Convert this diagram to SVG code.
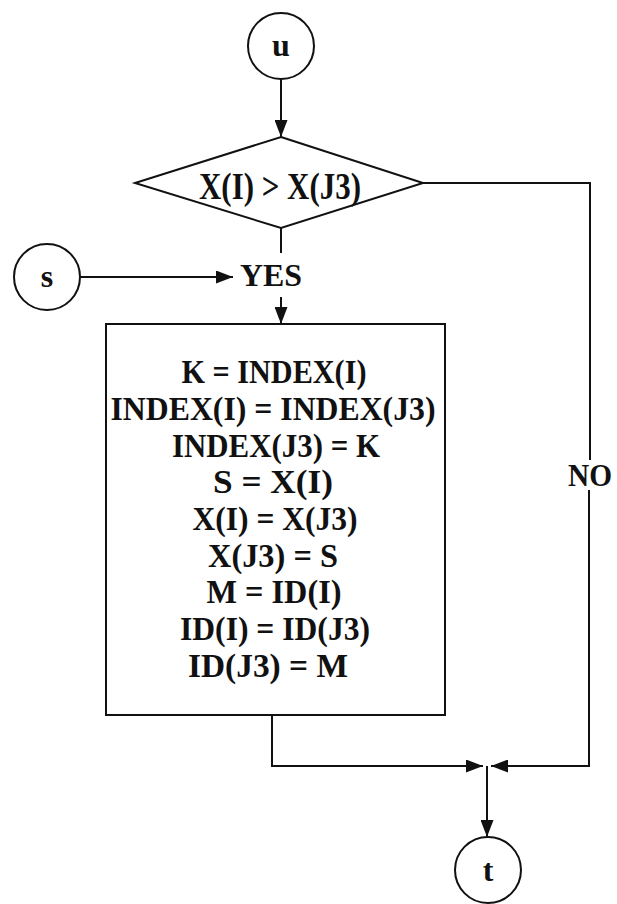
<svg xmlns="http://www.w3.org/2000/svg" width="617" height="904" viewBox="0 0 617 904">
<defs>
<marker id="arr" markerUnits="userSpaceOnUse" markerWidth="17" markerHeight="13" refX="17" refY="6.5" orient="auto">
<path d="M0,0 L17,6.5 L0,13 z" fill="#111"/>
</marker>
<style>
.shape{fill:#fff;stroke:#111;stroke-width:2}
.line{fill:none;stroke:#111;stroke-width:2}
.t{font-family:"Liberation Serif","Times New Roman",serif;font-weight:bold;fill:#111;text-anchor:middle}
.big{font-size:37px}
.body{font-size:34px}
.lbl{font-size:32px}
</style>
</defs>
<rect width="617" height="904" fill="#fff"/>
<g id="connectors">
<path class="line" d="M281,79 V137" marker-end="url(#arr)"/>
<path class="line" d="M281,228 V253"/>
<path class="line" d="M281,297 V324" marker-end="url(#arr)"/>
<path class="line" d="M80,277 H233" marker-end="url(#arr)"/>
<path class="line" d="M423,183 H590 V460"/>
<path class="line" d="M589,490 V766 H491" marker-end="url(#arr)"/>
<path class="line" d="M272,715 V766 H483" marker-end="url(#arr)"/>
<path class="line" d="M487,766 V837" marker-end="url(#arr)"/>
<text class="t lbl" x="271" y="286" textLength="62" lengthAdjust="spacingAndGlyphs">YES</text>
<text class="t lbl" x="590" y="486" textLength="44" lengthAdjust="spacingAndGlyphs">NO</text>
</g>
<g id="node-u">
<circle class="shape" cx="281" cy="46" r="33"/>
<text class="t lbl" x="281" y="56">u</text>
</g>
<g id="node-s">
<circle class="shape" cx="47" cy="277" r="33"/>
<text class="t lbl" x="47" y="287">s</text>
</g>
<g id="node-t">
<circle class="shape" cx="488" cy="870" r="33"/>
<text class="t lbl" x="488" y="881">t</text>
</g>
<g id="node-decision">
<polygon class="shape" points="281,137 423,183 281,228 135,183"/>
<text class="t big" x="280" y="199" textLength="162" lengthAdjust="spacingAndGlyphs">X(I) &gt; X(J3)</text>
</g>
<g id="node-process">
<rect class="shape" x="106" y="324" width="339" height="391"/>
<text class="t body" x="274" y="383" textLength="185" lengthAdjust="spacingAndGlyphs">K = INDEX(I)</text>
<text class="t body" x="273" y="420" textLength="325" lengthAdjust="spacingAndGlyphs">INDEX(I) = INDEX(J3)</text>
<text class="t body" x="276" y="457" textLength="208" lengthAdjust="spacingAndGlyphs">INDEX(J3) = K</text>
<text class="t body" x="273" y="493" textLength="120" lengthAdjust="spacingAndGlyphs">S = X(I)</text>
<text class="t body" x="275" y="530" textLength="165" lengthAdjust="spacingAndGlyphs">X(I) = X(J3)</text>
<text class="t body" x="273" y="567" textLength="130" lengthAdjust="spacingAndGlyphs">X(J3) = S</text>
<text class="t body" x="274" y="603" textLength="135" lengthAdjust="spacingAndGlyphs">M = ID(I)</text>
<text class="t body" x="275" y="640" textLength="190" lengthAdjust="spacingAndGlyphs">ID(I) = ID(J3)</text>
<text class="t body" x="268" y="677" textLength="160" lengthAdjust="spacingAndGlyphs">ID(J3) = M</text>
</g>
</svg>
